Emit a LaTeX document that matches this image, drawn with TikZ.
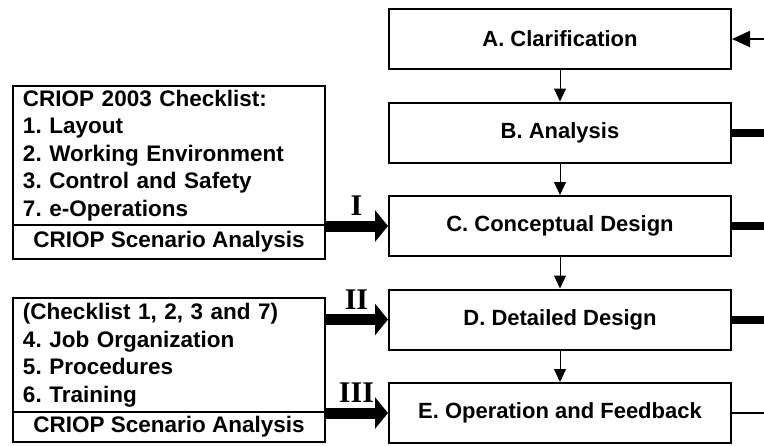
\documentclass[tikz,border=0pt]{standalone}
\usepackage{fontspec}
\setmainfont{Liberation Sans}
\newfontfamily\romfont{Liberation Serif}
\usetikzlibrary{arrows.meta,positioning,calc}
\frenchspacing

\begin{document}
\begin{tikzpicture}[x=1pt,y=-1pt,
  box/.style={draw,line width=2pt,minimum width=342pt,minimum height=60pt,font=\fontsize{22}{27.5}\selectfont\bfseries},
  list/.style={draw,line width=2pt,outer sep=0pt,minimum width=312pt,text width=292pt,inner xsep=10pt,inner ysep=4pt,align=left,font=\fontsize{22.5}{27.5}\selectfont\bfseries},
  scen/.style={draw,line width=2pt,outer sep=0pt,minimum width=312pt,inner sep=0pt,font=\fontsize{22.5}{27.5}\selectfont\bfseries},
  flow/.style={line width=1pt,-{Triangle[length=13pt,width=12pt]}},
  feed/.style={line width=11pt,-{Triangle[length=13pt,width=31pt]}},
  num/.style={inner sep=0pt,font=\romfont\bfseries\fontsize{30}{30}\selectfont}]
\useasboundingbox (0,0) rectangle (764,445);
\coordinate (edge) at (764,0);
\node (A) [box] at (560,39) {A. Clarification};
\node (B) [box,below=31.5pt of A] {B. Analysis};
\node (C) [box,below=31.5pt of B] {C. Conceptual Design};
\node (D) [box,below=31.5pt of C] {D. Detailed Design};
\node (E) [box,below=31.5pt of D] {E. Operation and Feedback};
\draw[flow] (A) -- (B);
\draw[flow] (B) -- (C);
\draw[flow] (C) -- (D);
\draw[flow] (D) -- (E);
% lines leaving on the right
\draw[line width=2pt,{Triangle[length=18pt,width=16pt]}-] (A.east) -- (A.east -| edge);
\draw[line width=8pt] (B.east) -- (B.east -| edge);
\draw[line width=8pt] (C.east) -- (C.east -| edge);
\draw[line width=8pt] (D.east) -- (D.east -| edge);
\draw[line width=2pt] (E.east) -- (E.east -| edge);
% checklists
\node (listI) [list,minimum height=139pt] at (169,155.5) {CRIOP 2003 Checklist:\\1. Layout\\2. Working Environment\\3. Control and Safety\\7. e-Operations};
\node (scenI) [scen,minimum height=34pt,below=0pt of listI] {CRIOP Scenario Analysis};
\node (listII) [list,minimum height=114pt] at (169,355) {(Checklist 1, 2, 3 and 7)\\4. Job Organization\\5. Procedures\\6. Training};
\node (scenII) [scen,minimum height=30pt,below=0pt of listII] {CRIOP Scenario Analysis};
\draw[feed] (C.west -| listI.east) -- node[num,above=5pt]{I} (C.west);
\draw[feed] (D.west -| listII.east) -- node[num,above=5pt]{II} (D.west);
\draw[feed] (E.west -| listII.east) -- node[num,above=5pt]{III} (E.west);
\end{tikzpicture}
\end{document}
